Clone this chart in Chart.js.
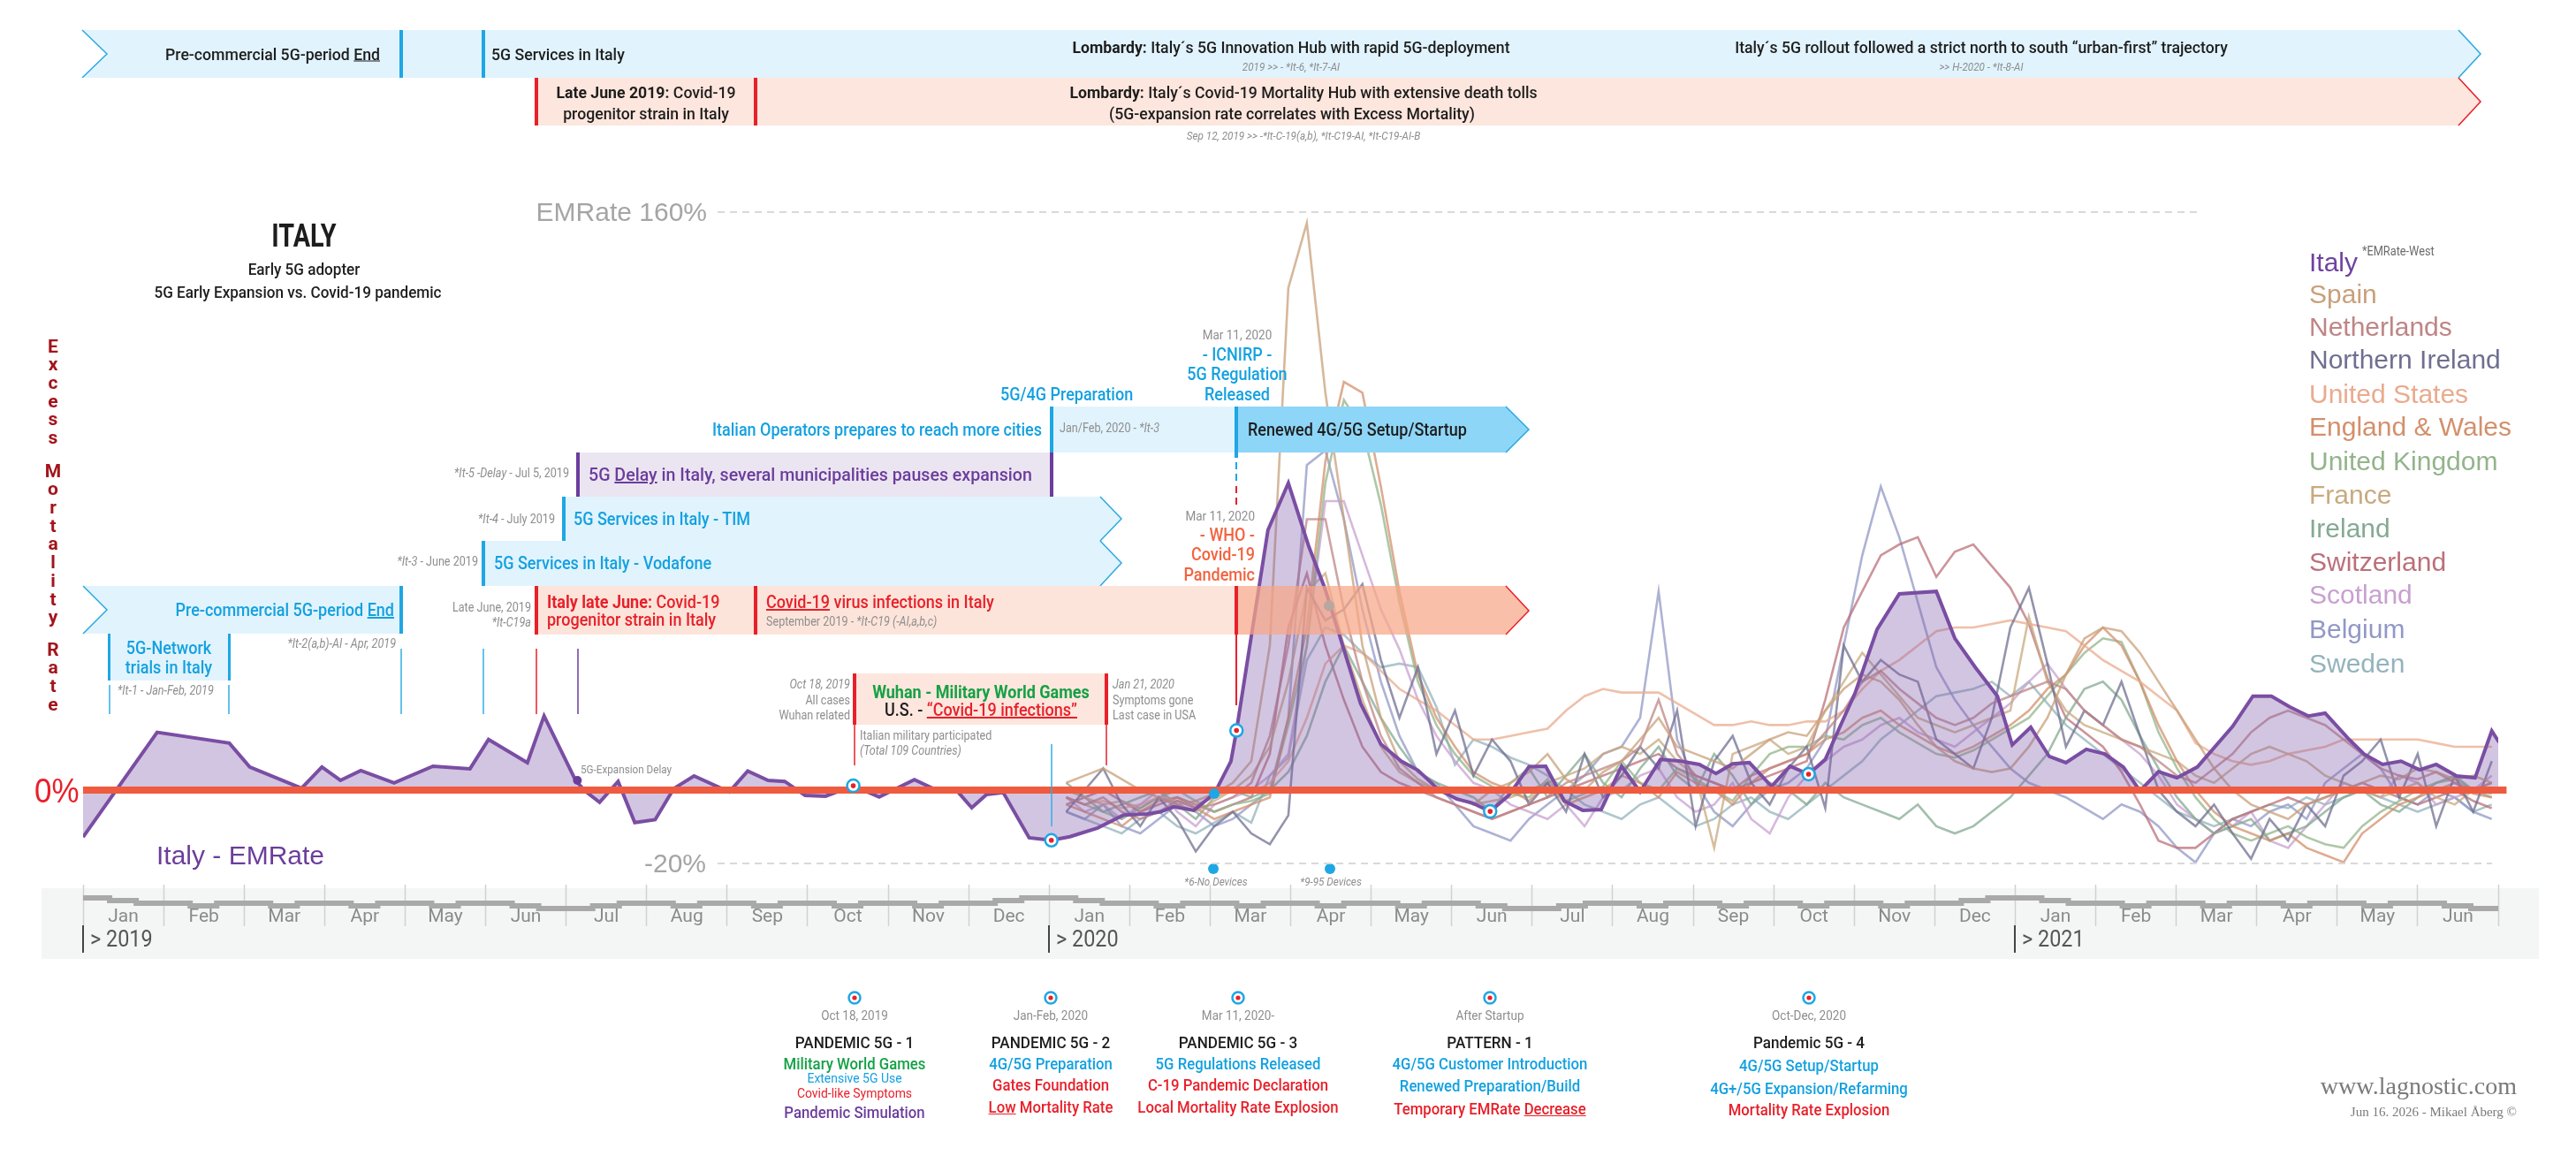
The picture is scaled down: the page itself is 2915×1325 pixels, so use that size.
<!DOCTYPE html>
<html>
<head>
<meta charset="utf-8">
<script src="https://cdn.jsdelivr.net/npm/chart.js@4.4.1/dist/chart.umd.min.js"></script>
<style>
  html, body { margin: 0; padding: 0; background: #fff; }
  #page { position: relative; width: 2915px; height: 1325px; overflow: hidden; }
  #band { position: absolute; left: 47px; top: 1005px; width: 2826px; height: 80px; background: #f4f6f5; }
  #chart, #shapes, #texts { position: absolute; left: 0; top: 0; }
  #texts { width: 2915px; height: 1325px; }
  .t { position: absolute; white-space: nowrap; line-height: 1; font-family: Roboto, "Noto Sans", sans-serif; }
  .sans { font-family: "Liberation Sans", Arial, sans-serif; }
  .serif { font-family: "Liberation Serif", "DejaVu Serif", serif; }
  .k { color: #1d1d1d; } .b { color: #13a1e0; } .r { color: #e8202a; } .o { color: #f2633f; }
  .p { color: #6b3d9c; } .gr { color: #14a145; } .g { color: #8e8e8e; } .ga { color: #a5a5a5; }
  .gs { color: #7a7a7a; } .gy { color: #555; }
  .i { font-style: italic; } .w { font-weight: 700; } .m { font-weight: 500; }
  .f13 { font-size: 13px; } .f14 { font-size: 14px; } .f15 { font-size: 15px; } .f18 { font-size: 18px; }
  .f19 { font-size: 19px; } .f20 { font-size: 20px; } .f26 { font-size: 26px; } .f28 { font-size: 28px; }
  .f30 { font-size: 30px; } .f36 { font-size: 36px; } .f38 { font-size: 38px; }
  .ylab { position: absolute; left: 48px; width: 24px; text-align: center;
          font: bold 21px Roboto, sans-serif; line-height: 20.7px; color: #a3141b; }
</style>
</head>
<body>
<div id="page">
  <div id="band"></div>
  <canvas id="chart" width="2915" height="1325"></canvas>
  <svg id="shapes" width="2915" height="1325">
    <!-- top timeline rows -->
    <polygon points="93,34 2782,34 2807,61 2782,88 93,88 121,61" fill="#e1f3fd"/>
    <polyline points="93,34 121,61 93,88" fill="none" stroke="#2aa9e3" stroke-width="1.5"/>
    <polyline points="2782,34 2807,61 2782,88" fill="none" stroke="#2aa9e3" stroke-width="1.5"/>
    <rect x="452" y="34" width="4" height="54" fill="#1ea7e4"/>
    <rect x="545" y="34" width="4" height="54" fill="#1ea7e4"/>
    <polygon points="607,88 2782,88 2807,115 2782,142 607,142" fill="#fde6dd"/>
    <polyline points="2782,88 2807,115 2782,142" fill="none" stroke="#e8202a" stroke-width="1.5"/>
    <rect x="605" y="88" width="4" height="54" fill="#e8202a"/>
    <rect x="853" y="88" width="4" height="54" fill="#e8202a"/>

    <!-- value guides -->
    <line x1="812" y1="240" x2="2487" y2="240" stroke="#d9d9d9" stroke-width="2" stroke-dasharray="8 6"/>
    <line x1="812" y1="977" x2="2820" y2="977" stroke="#d9d9d9" stroke-width="2" stroke-dasharray="8 6"/>

    <!-- 2019 annotation banners -->
    <polygon points="94,663 455,663 455,717 94,717 121,690" fill="#e1f3fd"/>
    <polyline points="94,663 121,690 94,717" fill="none" stroke="#2aa9e3" stroke-width="1.5"/>
    <rect x="452" y="663" width="4" height="54" fill="#1ea7e4"/>
    <rect x="123" y="717" width="137" height="53" fill="#e1f3fd"/>
    <rect x="122" y="717" width="3" height="53" fill="#1ea7e4"/>
    <rect x="258" y="717" width="3" height="53" fill="#1ea7e4"/>
    <g stroke-width="1.5">
      <line x1="124" y1="775" x2="124" y2="808" stroke="#31aee6"/>
      <line x1="259" y1="775" x2="259" y2="808" stroke="#31aee6"/>
      <line x1="454" y1="734" x2="454" y2="808" stroke="#31aee6"/>
      <line x1="547" y1="734" x2="547" y2="808" stroke="#31aee6"/>
      <line x1="607" y1="734" x2="607" y2="808" stroke="#e8202a"/>
      <line x1="654" y1="734" x2="654" y2="808" stroke="#6b3d9c"/>
    </g>
    <polygon points="547,612 1245,612 1269,637 1245,663 547,663" fill="#e1f3fd"/>
    <polyline points="1245,612 1269,637 1245,663" fill="none" stroke="#2aa9e3" stroke-width="1.5"/>
    <rect x="545" y="612" width="4" height="51" fill="#1ea7e4"/>
    <polygon points="638,562 1245,562 1269,587 1245,612 638,612" fill="#e1f3fd"/>
    <polyline points="1245,562 1269,587 1245,612" fill="none" stroke="#2aa9e3" stroke-width="1.5"/>
    <rect x="636" y="562" width="4" height="50" fill="#1ea7e4"/>
    <rect x="654" y="512" width="536" height="50" fill="#ebe5f1"/>
    <rect x="652" y="512" width="4" height="50" fill="#6b3d9c"/>
    <rect x="1188" y="512" width="4" height="50" fill="#6b3d9c"/>
    <rect x="1190" y="460" width="209" height="52" fill="#e1f3fd"/>
    <rect x="1188" y="460" width="4" height="52" fill="#1ea7e4"/>
    <polygon points="1399,460 1704,460 1730,486 1704,512 1399,512" fill="#8ed6f8"/>
    <polyline points="1704,460 1730,486 1704,512" fill="none" stroke="#2aa9e3" stroke-width="1.5"/>
    <rect x="1397" y="460" width="4" height="58" fill="#1ea7e4"/>
    <line x1="1399" y1="523" x2="1399" y2="545" stroke="#1ea7e4" stroke-width="2" stroke-dasharray="8 5"/>
    <line x1="1399" y1="550" x2="1399" y2="572" stroke="#e8202a" stroke-width="2" stroke-dasharray="8 5"/>
    <polygon points="607,663 1399,663 1399,718 607,718" fill="rgba(253,226,215,0.92)"/>
    <polygon points="1399,663 1704,663 1730,691 1704,718 1399,718" fill="rgba(246,166,134,0.72)"/>
    <polyline points="1704,663 1730,691 1704,718" fill="none" stroke="#e8202a" stroke-width="1.5"/>
    <rect x="605" y="663" width="4" height="55" fill="#e8202a"/>
    <rect x="853" y="663" width="4" height="55" fill="#e8202a"/>
    <rect x="1397" y="663" width="4" height="55" fill="#e8202a"/>
    <line x1="1399" y1="718" x2="1399" y2="798" stroke="#e8202a" stroke-width="2"/>
    <rect x="967" y="762" width="285" height="58" fill="#fde6dd"/>
    <rect x="965" y="762" width="4" height="58" fill="#e8202a"/>
    <rect x="1250" y="762" width="4" height="58" fill="#e8202a"/>
    <line x1="967" y1="820" x2="967" y2="866" stroke="#e8202a" stroke-width="1.5"/>
    <line x1="1252" y1="820" x2="1252" y2="866" stroke="#e8202a" stroke-width="1.5"/>
    <line x1="1190" y1="842" x2="1190" y2="935" stroke="#31aee6" stroke-width="1.5"/>

    <!-- bottom key markers -->
    <g>
      <circle cx="967" cy="1129" r="6.5" fill="#fff" stroke="#1ea7e4" stroke-width="2.5"/><circle cx="967" cy="1129" r="2.6" fill="#e8202a"/>
      <circle cx="1189" cy="1129" r="6.5" fill="#fff" stroke="#1ea7e4" stroke-width="2.5"/><circle cx="1189" cy="1129" r="2.6" fill="#e8202a"/>
      <circle cx="1401" cy="1129" r="6.5" fill="#fff" stroke="#1ea7e4" stroke-width="2.5"/><circle cx="1401" cy="1129" r="2.6" fill="#e8202a"/>
      <circle cx="1686" cy="1129" r="6.5" fill="#fff" stroke="#1ea7e4" stroke-width="2.5"/><circle cx="1686" cy="1129" r="2.6" fill="#e8202a"/>
      <circle cx="2047" cy="1129" r="6.5" fill="#fff" stroke="#1ea7e4" stroke-width="2.5"/><circle cx="2047" cy="1129" r="2.6" fill="#e8202a"/>
    </g>
  </svg>
  <div id="texts"></div>
</div>

<script>
// ---- data (x in weeks since Jan 1, 2019; values in % excess mortality) ----
const monthLabels = ['Jan', 'Feb', 'Mar', 'Apr', 'May', 'Jun', 'Jul', 'Aug', 'Sep', 'Oct', 'Nov', 'Dec',
                     'Jan', 'Feb', 'Mar', 'Apr', 'May', 'Jun', 'Jul', 'Aug', 'Sep', 'Oct', 'Nov', 'Dec',
                     'Jan', 'Feb', 'Mar', 'Apr', 'May', 'Jun'];
const yearLabels = ['> 2019', '> 2020', '> 2021'];
const yearStartMonths = [0, 12, 24];

const italyWeeks = [0, 4.0, 7.9, 9.0, 11.8, 12.9, 13.9, 15.0, 16.8, 18.9,
  20.9, 21.9, 24.0, 24.9, 26.6, 27.1, 27.9, 28.9, 29.8, 30.9,
  31.9, 33.0, 34.9, 35.9, 37.0, 37.9, 39.0, 40.1, 41.6, 43.0,
  44.9, 45.9, 47.1, 48.0, 48.8, 49.7, 51.1, 52.3, 53.3, 54.8,
  56.2, 57.5, 58.2, 58.9, 60.0, 61.1, 62.0, 62.3, 64.0, 65.1,
  66.2, 67.1, 69.0, 70.1, 71.2, 72.1, 73.2, 74.2, 75.0, 76.0,
  77.0, 78.1, 79.0, 80.0, 81.0, 82.0, 83.1, 84.1, 85.2, 86.2,
  87.3, 88.2, 89.1, 90.0, 91.2, 92.2, 93.2, 94.1, 95.7, 96.9,
  98.1, 100.1, 101.1, 102.2, 103.4, 104.2, 105.2, 106.2, 107.1, 108.2,
  109.2, 110.2, 111.1, 112.1, 113.1, 114.2, 116.1, 117.2, 118.2, 119.2,
  120.2, 121.1, 122.4, 123.2, 124.2, 125.2, 126.2, 127.1, 128.2, 129.2,
  130.1, 130.5];
const italyValues = [-13, 16, 13, 6.4, 0.5, 6.4, 2.7, 5.4, 2, 6.6,
  5.9, 14, 7.6, 20.5, 2.7, -0.2, -3.4, 2.4, -9, -8.2,
  0.4, 3.9, -0.5, 5.3, 2.7, 2.4, -1.5, -1.7, 1.2, -1.9,
  2.9, 0.5, 0.4, -4.9, -1.2, -0.7, -13.2, -13.9, -12.9, -10.5,
  -6.9, -6.6, -6, -4.6, -5.6, -1, 8, 16.5, 72, 85,
  67.5, 55.5, 24, 12.7, 8, 5.5, 0.2, -2.5, -3.5, -5.9,
  -1.5, 6.5, 6.6, -3, -5.6, -5.4, 6.6, -0.5, 8.5, 8.1,
  7.1, 4.6, 7.3, 7.6, 1, 6.6, 4.4, 8.5, 26.7, 44.5,
  54.3, 55, 42, 34, 26, 12.5, 17.4, 9.3, 7.6, 11.3,
  10, 6.4, -0.2, 5.1, 3.4, 6.4, 17.6, 26, 26, 23,
  20.5, 21.3, 14, 10, 7.1, 8, 5.6, 7.1, 3.9, 3.4,
  16.4, 13.2];

// other countries: weekly values from week 53.1 (early Jan 2020)
const countryStartWeek = 53.1;
const countries = ['Spain', 'Netherlands', 'Northern Ireland', 'United States', 'England & Wales',
  'United Kingdom', 'France', 'Ireland', 'Switzerland', 'Scotland', 'Belgium', 'Sweden'];
const countryColors = ['#c8a07a', '#bf8585', '#6f6f90', '#e9ab8e', '#d3906c',
  '#93b48b', '#c8aa7f', '#84aa92', '#bb7079', '#c9a0d0', '#9198c6', '#93b3bc'];

const spain = [2, 4, 6, 3, 0, -2, -4, -3, -1, 2,
  8, 40, 139, 157, 110, 75, 40, 20, 8, 3,
  0, -2, -4, 0, 2, 5, 10, 3, 0, 5,
  8, 14, 20, 12, 10, 8, 6, 10, 14, 16,
  15, 22, 28, 32, 30, 25, 18, 12, 8, 6,
  5, 6, 12, 20, 32, 42, 45, 44, 38, 30,
  22, 14, 6, 0, -4, -6, -8, -4, -2, 0,
  2, 4, 3, 6, 5, 3, 4, 2];
const netherlands = [-2, -4, -2, -6, -8, -6, -3, -5, -4, -2,
  2, 15, 40, 75, 75, 50, 30, 15, 6, 2,
  -2, -4, -6, -8, -6, -4, -2, 2, 4, 6,
  8, 12, 25, 10, 4, 2, 0, 4, 6, 8,
  10, 16, 22, 30, 33, 28, 24, 20, 18, 20,
  24, 26, 28, 30, 28, 22, 18, 14, 12, 8,
  4, 2, 6, 10, 16, 20, 22, 20, 18, 14,
  10, 6, 4, 3, 5, 2, 0, 2];
const northernIreland = [-6, 0, 6, -4, -10, -2, -8, -17, -10, -6,
  -12, -15, -7, 56, 47, 50, 57, 36, 20, 34,
  10, 22, 4, 14, 8, -4, 2, -6, 10, -2,
  4, 12, 6, 22, -10, 8, 15, 2, -4, 6,
  12, -5, 40, 30, 36, 32, 30, 14, 10, 6,
  20, 45, 56, 35, 12, 22, 18, 30, 15, 0,
  -6, -10, -4, -12, -19, -8, -14, -4, -10, 4,
  8, 14, -2, 10, -10, 4, -6, 8];
const unitedStates = [-2, -4, -3, -5, -4, -2, -3, -4, -2, 0,
  -1, 2, 8, 20, 35, 40, 38, 33, 28, 25,
  22, 18, 14, 14, 15, 16, 17, 22, 26, 28,
  27, 27, 27, 24, 21, 18, 18, 19, 18, 18,
  19, 19, 22, 28, 33, 36, 40, 44, 45, 45,
  46, 47, 46, 45, 44, 40, 36, 33, 30, 26,
  22, 13, 10, 8, 7, 8, 10, 11, 12, 14,
  14, 14, 14, 14, 13, 12, 12, 12];
const englandWales = [-4, -6, -8, -10, -6, -3, -2, -5, -8, -6,
  -4, -2, 20, 45, 91, 113, 110, 84, 55, 32,
  20, 12, 5, 2, 0, -3, 2, -4, -2, 0,
  4, 2, -2, 5, 2, 0, -4, 2, 6, 8,
  10, 14, 16, 20, 22, 18, 15, 12, 10, 12,
  15, 18, 22, 28, 32, 40, 45, 40, 30, 18,
  8, 0, -6, -10, -12, -14, -12, -16, -18, -20,
  -12, -8, -4, -2, 0, 2, -1, -2];
const unitedKingdom = [-2, -4, -6, -8, -5, -2, 0, -3, -6, -4,
  -3, -1, 18, 40, 85, 108, 100, 79, 52, 30,
  18, 10, 4, 1, -1, -2, 3, -3, -1, 1,
  8, 2, 0, 6, 3, 0, -3, 4, 10, 12,
  12, 15, 14, 18, 20, 16, 13, 10, 9, 11,
  14, 17, 20, 26, 32, 38, 42, 41, 30, 16,
  6, -2, -8, -12, -14, -12, -10, -13, -15, -16,
  -10, -6, -3, 0, 2, 3, 0, -1];
const france = [0, -2, -4, -3, -5, -2, -4, -6, -3, 0,
  4, 12, 30, 55, 60, 40, 25, 12, 5, 2,
  0, -2, -4, -3, -2, 0, 2, 4, 6, 10,
  12, 10, 14, 8, 4, -16, 10, 12, 14, 10,
  12, 22, 30, 38, 32, 26, 20, 18, 16, 18,
  20, 22, 48, 30, 22, 18, 16, 14, 12, 10,
  8, 4, 2, 6, 10, 12, 10, 8, 4, 2,
  0, -2, 0, 2, -2, -4, 0, 2];
const ireland = [2, -2, -6, -4, -2, 0, -4, -8, -2, 0,
  -2, 0, 5, 15, 30, 40, 30, 20, 12, 5,
  2, 0, -2, -6, 2, 6, -2, 4, 10, 2,
  -2, 6, 12, 4, 0, 10, 4, -4, 2, 0,
  -4, 2, -2, -4, -6, -8, -4, -10, -12, -10,
  -6, -2, 4, 10, 20, 28, 30, 25, 15, 6,
  -2, -8, -12, -10, -8, -14, -12, -10, -6, -2,
  0, -4, -6, -2, 2, 4, 0, -2];
const switzerland = [-4, -2, 0, -3, -6, -4, -2, -4, -6, -4,
  -2, 10, 45, 60, 40, 25, 12, 5, 2, 0,
  -2, -4, -6, -8, -6, -4, -2, 0, 2, 4,
  6, 8, 10, 6, 4, 2, 0, 2, 4, 6,
  8, 25, 45, 55, 65, 68, 70, 59, 66, 68,
  62, 56, 46, 31, 20, 16, 12, 5, -4, -14,
  -16, -16, -12, -8, -6, -4, -2, -4, -2, 0,
  2, 0, -2, -4, -2, 0, -3, -5];
const scotland = [-2, -6, -4, -8, -4, 0, -6, -10, -4, -2,
  0, 4, 10, 40, 80, 80, 65, 50, 39, 25,
  15, 8, 2, 0, -4, -6, -8, -4, -10, -2,
  0, 4, 6, -2, -6, -4, 2, -8, -12, -2,
  4, 8, 12, 14, 18, 20, 16, 14, 12, 16,
  20, 24, 30, 35, 28, 22, 18, 14, 10, 4,
  -4, -8, -12, -10, -6, -14, -16, -10, -4, 2,
  0, -2, 4, 2, -4, -2, 0, 4];
const belgium = [-6, -8, -4, -10, -12, -8, -4, -6, -10, -8,
  -4, 0, 20, 90, 94, 75, 50, 30, 15, 5,
  2, -4, -10, -12, -14, -8, -4, 0, 4, 10,
  12, 20, 55, 14, 2, -6, -10, -4, 0, 2,
  6, 14, 40, 65, 84, 70, 52, 34, 25, 18,
  12, 6, 2, 0, -2, -5, -8, -4, -6, -10,
  -16, -20, -12, -8, -10, -6, -4, -8, 2, 6,
  10, 6, -2, -4, 0, -2, -6, -8];
const sweden = [-6, -8, -10, -12, -8, -6, -10, -12, -9, -6,
  -9, 4, 9, 36, 45, 43, 38, 34, 35, 34,
  23, 7, 14, 12, 9, 7, 4, 0, -4, -6,
  -8, -4, -2, -6, -10, -8, -4, -2, -6, -8,
  -4, 0, 4, 8, 14, 18, 22, 26, 27, 28,
  30, 26, 30, 24, 18, 14, 10, 6, 2, -2,
  -6, -8, -10, -8, -6, -4, -5, -2, -4, -2,
  0, -2, -4, -6, -4, -2, -6, -4];
const countrySeries = [spain, netherlands, northernIreland, unitedStates, englandWales,
  unitedKingdom, france, ireland, switzerland, scotland, belgium, sweden];

// marked events on the Italy curve
const markerWeeks = [41.6, 52.3, 62.3, 76.0, 93.2];
const markerValues = [1.2, -13.9, 16.5, -5.9, 4.4];
const blueDotWeeks = [61.1, 67.3, 61.05, 67.35];
const blueDotValues = [-1, 51, -21.8, -21.8];
const delayDotWeeks = [26.7];
const delayDotValues = [2.7];
const zeroLineWeeks = [0, 130.9];

// stepped band under the chart (level 0..4), one low step per month then the rest level
const bandStartLevel = 4;
const bandLow = [3, 1, 1, 1, 1, 1, 1, 1, 1, 1, 1, 3, 3, 1, 1, 1, 1, 1, 1, 1, 1, 1, 1, 3, 3, 1, 1, 1, 1, 1];
const bandRest = [2, 2, 2, 2, 2, 0, 2, 2, 2, 2, 2, 4, 2, 2, 2, 2, 2, 0, 2, 2, 2, 2, 2, 4, 2, 2, 2, 2, 2, 0];

// ---- helpers ----
const W = 52.18 / 12; // weeks per month
const texts = document.getElementById('texts');

function put(x, y, html, cls, align, sx) {
  sx = sx || 0.9;
  const d = document.createElement('div');
  d.className = 't ' + (cls || '');
  d.innerHTML = html;
  const ox = align === 'c' ? '50%' : align === 'r' ? '100%' : '0';
  const tx = align === 'c' ? '-50%' : align === 'r' ? '-100%' : '0';
  d.style.left = x + 'px';
  d.style.top = y + 'px';
  d.style.transformOrigin = ox + ' 50%';
  d.style.transform = 'translate(' + tx + ',-50%) scaleX(' + sx + ')';
  texts.appendChild(d);
  return d;
}

function rgba(hex, a) {
  const n = parseInt(hex.slice(1), 16);
  return 'rgba(' + (n >> 16) + ',' + ((n >> 8) & 255) + ',' + (n & 255) + ',' + a + ')';
}

const pts = (xs, ys) => xs.map((x, i) => ({ x: x, y: ys[i] }));

// ---- datasets ----
const datasets = [];
countries.forEach((name, i) => {
  datasets.push({
    label: name,
    data: countrySeries[i].map((v, k) => ({ x: countryStartWeek + k, y: v })),
    borderColor: rgba(countryColors[i], 0.75),
    borderWidth: 2.6,
    pointRadius: 0,
    fill: false,
    order: 5
  });
});

datasets.push({
  label: 'Italy',
  data: pts(italyWeeks, italyValues),
  borderColor: '#7a4ea3',
  borderWidth: 4,
  backgroundColor: 'rgba(125,90,170,0.35)',
  fill: 'origin',
  pointRadius: 0,
  order: 2
});

datasets.push({
  label: 'zero',
  data: pts(zeroLineWeeks, [0, 0]),
  borderColor: '#ef5b3f',
  borderWidth: 8,
  pointRadius: 0,
  clip: false,
  order: 1
});

const bandPoints = [{ x: 0, y: bandStartLevel }];
for (let m = 0; m < monthLabels.length; m++) {
  bandPoints.push({ x: (m + 0.33) * W, y: bandLow[m] });
  bandPoints.push({ x: (m + 0.66) * W, y: bandRest[m] });
}
bandPoints.push({ x: monthLabels.length * W, y: bandRest[bandRest.length - 1] });
datasets.push({
  label: 'band',
  data: bandPoints,
  yAxisID: 'yBand',
  stepped: true,
  borderColor: '#a9a9a9',
  borderWidth: 6,
  pointRadius: 0,
  clip: false,
  order: 6
});

datasets.push({
  label: 'markers',
  data: pts(markerWeeks, markerValues),
  showLine: false,
  pointRadius: 7,
  pointBackgroundColor: '#fff',
  pointBorderColor: '#1ea7e4',
  pointBorderWidth: 2.5,
  order: 0
});
datasets.push({
  label: 'markers-core',
  data: pts(markerWeeks, markerValues),
  showLine: false,
  pointRadius: 2.8,
  pointBackgroundColor: '#e8202a',
  pointBorderWidth: 0,
  order: -1
});
datasets.push({
  label: 'blue dots',
  data: pts(blueDotWeeks, blueDotValues),
  showLine: false,
  pointRadius: 6,
  pointBackgroundColor: '#1ea7e4',
  pointBorderWidth: 0,
  order: -1
});
datasets.push({
  label: 'delay dot',
  data: pts(delayDotWeeks, delayDotValues),
  showLine: false,
  pointRadius: 5,
  pointBackgroundColor: '#6b3d9c',
  pointBorderWidth: 0,
  order: -1
});

// month boundaries and mid-month label positions
const xTicks = [];
for (let m = 0; m <= monthLabels.length; m++) {
  xTicks.push(m * W);
  if (m < monthLabels.length) xTicks.push((m + 0.5) * W);
}

const chart = new Chart(document.getElementById('chart'), {
  type: 'line',
  data: { datasets: datasets },
  options: {
    responsive: false,
    animation: false,
    devicePixelRatio: 1,
    layout: { padding: { left: 94, right: 88, top: 240, bottom: 239 } },
    plugins: { legend: { display: false }, tooltip: { enabled: false } },
    elements: { line: { tension: 0 }, point: { radius: 0 } },
    scales: {
      x: {
        type: 'linear',
        min: 0,
        max: monthLabels.length * W,
        afterBuildTicks: s => { s.ticks = xTicks.map(v => ({ value: v })); },
        afterFit: s => { s.height = 85; },
        border: { display: false },
        grid: {
          drawOnChartArea: false,
          drawTicks: true,
          tickLength: 47,
          tickWidth: 1.5,
          tickColor: c => (c.index % 2 ? 'rgba(0,0,0,0)' : '#cfd2d2')
        },
        ticks: {
          autoSkip: false,
          maxRotation: 0,
          minRotation: 0,
          padding: -23,
          color: '#8a8a8a',
          font: { family: 'Roboto', size: 21 },
          callback: (v, i) => (i % 2 ? monthLabels[(i - 1) / 2] : '')
        }
      },
      y: { display: false, min: -26.18, max: 160 },
      yBand: { display: false, min: 9, max: 262.67 }
    }
  }
});

// ---- year markers placed with the x scale ----
yearLabels.forEach((lab, i) => {
  const px = chart.scales.x.getPixelForValue(yearStartMonths[i] * W);
  const bar = document.createElement('div');
  bar.style.cssText = 'position:absolute;left:' + (px - 1) + 'px;top:1047px;width:2px;height:31px;background:#444';
  texts.appendChild(bar);
  put(px + 8, 1062, lab, 'f26 gy', 'l', 0.9);
});

// ---- legend from the series ----
const legendNames = ['Italy'].concat(countries);
const legendColors = ['#6f42a0'].concat(countryColors);
const legendY = [297, 333, 370, 407, 446, 483, 522, 560, 598, 636, 673, 712, 751];
legendNames.forEach((n, i) => {
  const d = put(2613, legendY[i], n, 'sans f30', 'l', 1);
  d.style.color = legendColors[i];
});
put(2673, 284, '*EMRate-West', 'f15', 'l', 0.85).style.color = '#6b6b6b';

// ---- titles and axis texts ----
put(344, 267, 'ITALY', 'k f36 w', 'c', 0.8);
put(344, 304, 'Early 5G adopter', 'k f19 m', 'c');
put(337, 330, '5G Early Expansion vs. Covid-19 pandemic', 'k f19 m', 'c');
put(800, 240, 'EMRate 160%', 'sans f30 ga', 'r', 1);
put(799, 977, '-20%', 'sans f30 ga', 'r', 1);
put(39, 895, '0%', 'sans f38 r', 'l', 0.92);
put(177, 968, 'Italy - EMRate', 'sans f30 p', 'l', 1);

const ywords = [['Excess', 392], ['Mortality', 533], ['Rate', 735]];
ywords.forEach(([word, yc]) => {
  const d = document.createElement('div');
  d.className = 'ylab';
  d.style.top = (yc - 10.35) + 'px';
  d.innerHTML = word.split('').join('<br>');
  texts.appendChild(d);
});

// ---- top rows ----
put(430, 61, 'Pre-commercial 5G-period <u>End</u>', 'k f19 m', 'r', 0.93);
put(556, 61, '5G Services in Italy', 'k f19 m', 'l', 0.93);
put(1461, 53, '<b>Lombardy:</b> Italy´s 5G Innovation Hub with rapid 5G-deployment', 'k f19 m', 'c', 0.93);
put(1461, 75, '2019 &gt;&gt; - *It-6, *It-7-AI', 'g i f13', 'c');
put(2242, 53, 'Italy´s 5G rollout followed a strict north to south “urban-first” trajectory', 'k f19 m', 'c', 0.93);
put(2242, 75, '&gt;&gt; H-2020 - *It-8-AI', 'g i f13', 'c');
put(731, 104, '<b>Late June 2019:</b> Covid-19', 'k f19 m', 'c', 0.93);
put(731, 128, 'progenitor strain in Italy', 'k f19 m', 'c', 0.93);
put(1475, 104, '<b>Lombardy:</b> Italy´s Covid-19 Mortality Hub with extensive death tolls', 'k f19 m', 'c', 0.93);
put(1462, 128, '(5G-expansion rate correlates with Excess Mortality)', 'k f19 m', 'c', 0.93);
put(1475, 153, 'Sep 12, 2019 &gt;&gt; -*It-C-19(a,b), *It-C19-AI, *It-C19-AI-B', 'g i f13', 'c');

// ---- chart annotations ----
put(446, 690, 'Pre-commercial 5G-period <u>End</u>', 'b f20 m', 'r');
put(191, 733, '5G-Network', 'b f20 m', 'c');
put(191, 755, 'trials in Italy', 'b f20 m', 'c');
put(133, 781, '*It-1 - Jan-Feb, 2019', 'g i f14', 'l');
put(448, 728, '*It-2(a,b)-AI - Apr, 2019', 'g i f14', 'r');
put(541, 635, '<i>*It-3</i> - June 2019', 'g f14', 'r');
put(559, 637, '5G Services in Italy - Vodafone', 'b f20 m', 'l');
put(628, 587, '<i>*It-4</i> - July 2019', 'g f14', 'r');
put(649, 587, '5G Services in Italy - TIM', 'b f20 m', 'l');
put(644, 535, '<i>*It-5 -Delay</i> - Jul 5, 2019', 'g f14', 'r');
put(666, 537, '5G <u>Delay</u> in Italy, several municipalities pauses expansion', 'p f20 m', 'l', 0.98);
put(1179, 486, 'Italian Operators prepares to reach more cities', 'b f20 m', 'r');
put(1132, 446, '5G/4G Preparation', 'b f20 m', 'l');
put(1199, 484, 'Jan/Feb, 2020 - <i>*It-3</i>', 'g f14', 'l');
put(1412, 486, 'Renewed 4G/5G Setup/Startup', 'k f20 m', 'l');
put(1400, 379, 'Mar 11, 2020', 'g f15', 'c');
put(1400, 401, '- ICNIRP -', 'b f20 m', 'c');
put(1400, 423, '5G Regulation', 'b f20 m', 'c');
put(1400, 446, 'Released', 'b f20 m', 'c');
put(1420, 584, 'Mar 11, 2020', 'g f15', 'r');
put(1420, 605, '- WHO -', 'o f20 m', 'r');
put(1420, 627, 'Covid-19', 'o f20 m', 'r');
put(1420, 650, 'Pandemic', 'o f20 m', 'r');
put(619, 681, '<b>Italy late June:</b> Covid-19', 'r f20 m', 'l');
put(619, 701, 'progenitor strain in Italy', 'r f20 m', 'l');
put(867, 681, '<u>Covid-19</u> virus infections in Italy', 'r f20 m', 'l');
put(867, 703, 'September 2019 - <i>*It-C19 (-AI,a,b,c)</i>', 'g f14', 'l');
put(601, 687, 'Late June, 2019', 'g f14', 'r');
put(601, 704, '*It-C19a', 'g i f14', 'r');
put(1110, 783, 'Wuhan - Military World Games', 'gr f20 w', 'c');
put(1110, 803, 'U.S. - <span class="r"><u>“Covid-19 infections”</u></span>', 'k f20 m', 'c');
put(962, 774, 'Oct 18, 2019', 'g i f14', 'r');
put(962, 792, 'All cases', 'g f14', 'r');
put(962, 809, 'Wuhan related', 'g f14', 'r');
put(973, 832, 'Italian military participated', 'g f14', 'l');
put(973, 849, '(Total 109 Countries)', 'g i f14', 'l');
put(1259, 774, 'Jan 21, 2020', 'g i f14', 'l');
put(1259, 792, 'Symptoms gone', 'g f14', 'l');
put(1259, 809, 'Last case in USA', 'g f14', 'l');
put(657, 870, '5G-Expansion Delay', 'g f13', 'l');
put(1376, 997, '*6-No Devices', 'g i f13', 'c');
put(1506, 997, '*9-95 Devices', 'g i f13', 'c');

// ---- bottom key ----
const keyCols = [
  { x: 967, date: 'Oct 18, 2019', title: 'PANDEMIC 5G - 1', lines: [
    ['Military World Games', 'gr f18 m', 1204], ['Extensive 5G Use', 'b f15', 1220],
    ['Covid-like Symptoms', 'r f15', 1237], ['Pandemic Simulation', 'p f18 m', 1259]] },
  { x: 1189, date: 'Jan-Feb, 2020', title: 'PANDEMIC 5G - 2', lines: [
    ['4G/5G Preparation', 'b f18 m', 1204], ['Gates Foundation', 'r f18 m', 1228],
    ['<u>Low</u> Mortality Rate', 'r f18 m', 1253]] },
  { x: 1401, date: 'Mar 11, 2020-', title: 'PANDEMIC 5G - 3', lines: [
    ['5G Regulations Released', 'b f18 m', 1204], ['C-19 Pandemic Declaration', 'r f18 m', 1228],
    ['Local Mortality Rate Explosion', 'r f18 m', 1253]] },
  { x: 1686, date: 'After Startup', title: 'PATTERN - 1', lines: [
    ['4G/5G Customer Introduction', 'b f18 m', 1204], ['Renewed Preparation/Build', 'b f18 m', 1229],
    ['Temporary EMRate <u>Decrease</u>', 'r f18 m', 1255]] },
  { x: 2047, date: 'Oct-Dec, 2020', title: 'Pandemic 5G - 4', lines: [
    ['4G/5G Setup/Startup', 'b f18 m', 1206], ['4G+/5G Expansion/Refarming', 'b f18 m', 1232],
    ['Mortality Rate Explosion', 'r f18 m', 1256]] }
];
keyCols.forEach(col => {
  put(col.x, 1149, col.date, 'g f15', 'c');
  put(col.x, 1179, col.title, 'k f19 m', 'c', 0.9);
  col.lines.forEach(l => put(col.x, l[2], l[0], l[1], 'c', 0.93));
});

put(2848, 1229, 'www.lagnostic.com', 'serif f28 gs', 'r', 1);
put(2848, 1258, 'Jun 16. 2026 - Mikael Åberg ©', 'serif f15 gs', 'r', 1);
</script>
</body>
</html>
